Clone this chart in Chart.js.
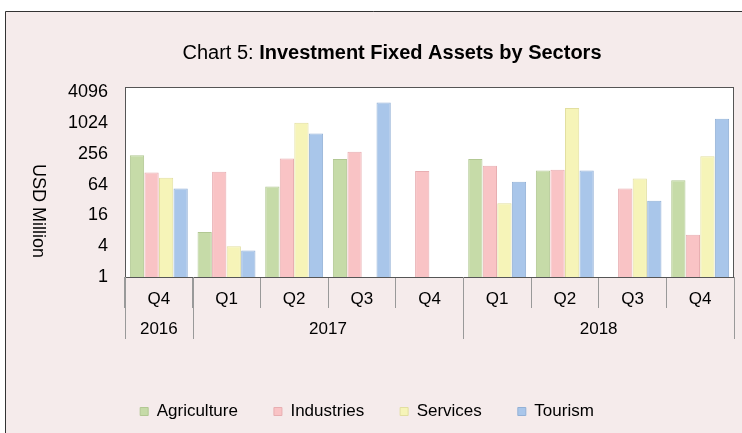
<!DOCTYPE html>
<html>
<head>
<meta charset="utf-8">
<script src="https://cdn.jsdelivr.net/npm/chart.js@4"></script>
<style>
  html, body { margin: 0; padding: 0; background: #fff; }
  #wrap { width: 742px; height: 433px; }
</style>
</head>
<body>
<div id="wrap"><canvas id="barChart"></canvas></div>
<script>
const QUARTERS = ["Q4", "Q1", "Q2", "Q3", "Q4", "Q1", "Q2", "Q3", "Q4"];
const YEARS = ["2016", "2017", "2018"];
const YEAR_SPANS = [1, 4, 4];
const AGRICULTURE = [240, 7.6, 59, 203, null, 203, 121, null, 78];
const INDUSTRIES = [111, 114, 207, 282, 118, 150, 125, 54, 6.7];
const SERVICES = [87, 4.0, 1040, null, null, 27.6, 2010, 84, 230];
const TOURISM = [54, 3.3, 640, 2575, null, 73, 121, 31, 1250];
const Y_TICKS = [1, 4, 16, 64, 256, 1024, 4096];

main();

function main(){
    const FONT = "'Liberation Sans', Arial, sans-serif";
    const CANVAS = document.getElementById("barChart");

    const frame = {
        id: "frame",
        beforeDraw(chart){
            const ctx = chart.ctx;
            const a = chart.chartArea;
            ctx.save();
            ctx.fillStyle = "#ffffff";
            ctx.fillRect(0, 0, chart.width, chart.height);
            ctx.fillStyle = "#F5EBEB";
            ctx.fillRect(5, 11, chart.width, chart.height);
            ctx.strokeStyle = "#333";
            ctx.lineWidth = 1;
            ctx.beginPath();
            ctx.moveTo(5.5, chart.height);
            ctx.lineTo(5.5, 11.5);
            ctx.lineTo(chart.width, 11.5);
            ctx.stroke();
            ctx.fillStyle = "#ffffff";
            ctx.fillRect(a.left, a.top, a.right - a.left, a.bottom - a.top);
            ctx.restore();
        },
        afterDraw(chart){
            const ctx = chart.ctx;
            const a = chart.chartArea;
            const x = chart.scales.x;
            ctx.save();
            // plot box
            ctx.strokeStyle = "#555";
            ctx.lineWidth = 1;
            ctx.strokeRect(a.left + 0.5, a.top + 0.5, a.right - a.left - 1, a.bottom - a.top);

            // title, mixed weights
            ctx.textBaseline = "middle";
            ctx.fillStyle = "#000";
            const t1 = "Chart 5: ";
            const t2 = "Investment Fixed Assets by Sectors";
            ctx.font = "20px " + FONT;
            const w1 = ctx.measureText(t1).width;
            ctx.font = "bold 20px " + FONT;
            const w2 = ctx.measureText(t2).width;
            let tx = 392 - (w1 + w2) / 2;
            ctx.font = "20px " + FONT;
            ctx.textAlign = "left";
            ctx.fillText(t1, tx, 53);
            ctx.font = "bold 20px " + FONT;
            ctx.fillText(t2, tx + w1, 53);

            // y title, reading downwards
            ctx.font = "18px " + FONT;
            ctx.textAlign = "center";
            ctx.translate(38, 211);
            ctx.rotate(Math.PI / 2);
            ctx.fillText("USD Million", 0, 0);
            ctx.setTransform(1, 0, 0, 1, 0, 0);

            // year row and separators
            const step = (a.right - a.left) / QUARTERS.length;
            ctx.strokeStyle = "#999";
            ctx.font = "17px " + FONT;
            ctx.textAlign = "center";
            let i = 0;
            ctx.beginPath();
            ctx.moveTo(a.left + 0.5, a.bottom);
            ctx.lineTo(a.left + 0.5, a.bottom + 62);
            YEARS.forEach((yr, k) => {
                const start = i;
                i += YEAR_SPANS[k];
                const xs = x.getPixelForValue(start) - step / 2;
                const xe = x.getPixelForValue(i - 1) + step / 2;
                ctx.fillText(yr, (xs + xe) / 2, a.bottom + 52);
                ctx.moveTo(Math.round(xe) + 0.5, a.bottom);
                ctx.lineTo(Math.round(xe) + 0.5, a.bottom + 62);
            });
            ctx.stroke();
            ctx.restore();
        }
    };

    const bar = (label, data, color, edge) => ({
        label: label,
        data: data,
        backgroundColor: color,
        borderColor: edge,
        borderWidth: 1,
        categoryPercentage: 0.86,
        barPercentage: 0.98
    });

    new Chart(CANVAS, {
        type: "bar",
        data: {
            labels: QUARTERS,
            datasets: [
                bar("Agriculture", AGRICULTURE, "#C6DBA8", "#B2C893"),
                bar("Industries", INDUSTRIES, "#F9C3C5", "#E8AEB1"),
                bar("Services", SERVICES, "#F6F4B8", "#E2DFA0"),
                bar("Tourism", TOURISM, "#A9C6EA", "#93B1D6")
            ]
        },
        options: {
            responsive: true,
            maintainAspectRatio: false,
            animation: false,
            layout: { padding: { top: 87, left: 0, right: 8, bottom: 3 } },
            plugins: {
                title: { display: false },
                tooltip: { enabled: false },
                legend: {
                    position: "bottom",
                    labels: {
                        boxWidth: 8,
                        boxHeight: 8,
                        padding: 36,
                        color: "#000",
                        font: { family: FONT, size: 17 }
                    }
                }
            },
            scales: {
                x: {
                    grid: {
                        offset: true,
                        drawOnChartArea: false,
                        drawTicks: true,
                        tickLength: 31,
                        color: "#999"
                    },
                    border: { display: false },
                    ticks: { color: "#000", padding: -19, font: { family: FONT, size: 17 } },
                    afterFit(s){ s.height = 90; }
                },
                y: {
                    type: "logarithmic",
                    min: 1,
                    max: 5200,
                    grid: { display: false, drawTicks: false },
                    border: { color: "#555" },
                    afterBuildTicks(s){ s.ticks = Y_TICKS.map(v => ({ value: v })); },
                    ticks: {
                        color: "#000",
                        padding: 17,
                        font: { family: FONT, size: 18 },
                        callback: v => String(v)
                    },
                    afterFit(s){ s.width = 125; }
                }
            }
        },
        plugins: [frame]
    });
}
</script>
</body>
</html>
